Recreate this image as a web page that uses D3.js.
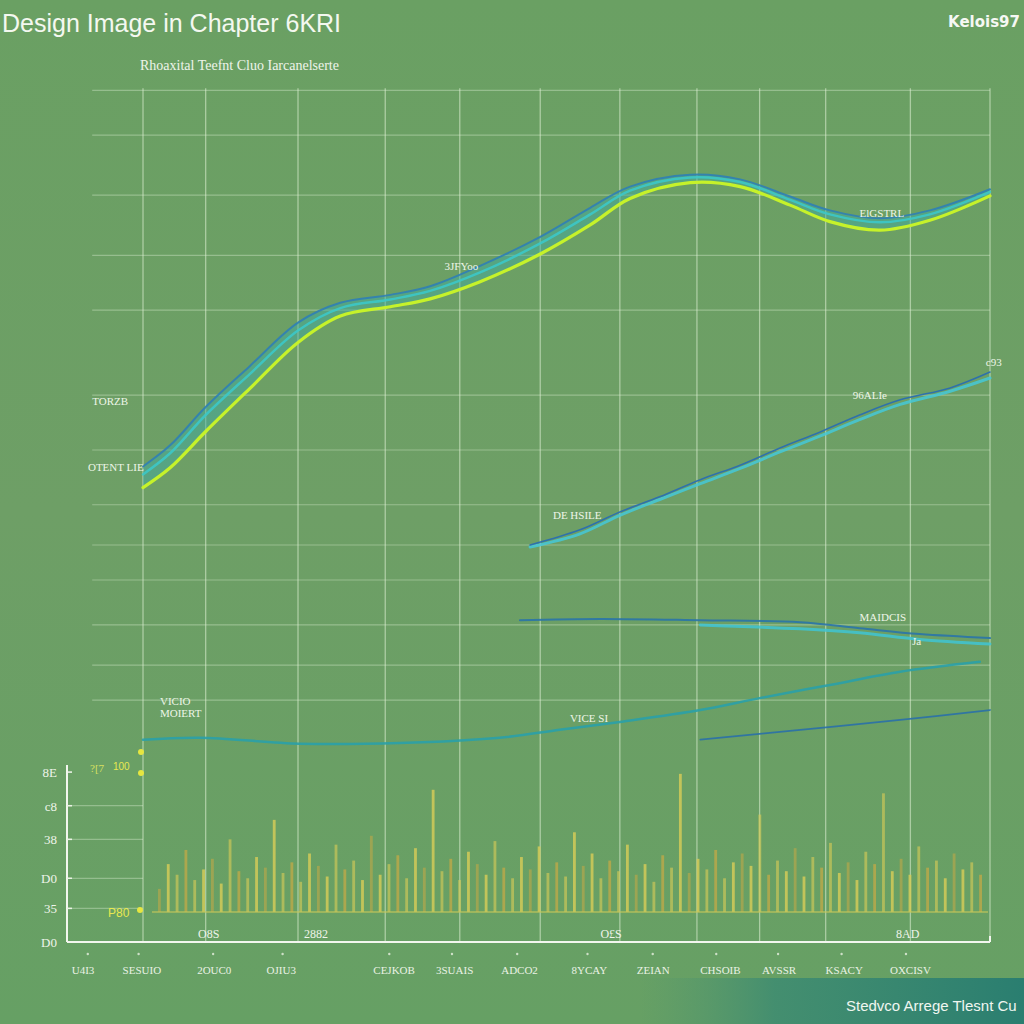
<!DOCTYPE html>
<html><head><meta charset="utf-8">
<script src="https://cdn.jsdelivr.net/npm/d3@7"></script>
<style>html,body{margin:0;padding:0;background:#6c9e64;}svg{display:block;}</style>
</head><body>
<script>
// ---------- data ----------
const titleText = "Design Image in Chapter 6KRI";
const subtitleText = "Rhoaxital Teefnt Cluo Iarcanelserte";
const cornerText = "Kelois97";
const footerText = "Stedvco Arrege Tlesnt Cu";

const gridX = [0, 7.4, 18.3, 28.6, 37.4, 46.9, 56.3, 65.4, 72.8, 80.6, 90.6, 100];
const gridY = [99.2, 92.4, 83.3, 74.2, 65.9, 53.0, 44.7, 36.4, 30.3, 25.0, 18.2, 12.1, 6.8];

const line1X = [0, 3.2, 7.4, 12.6, 18.3, 23.3, 29.2, 33.9, 39.8, 46.9, 52.8, 57.5, 64.6, 70.5, 76.4, 81.1, 87.0, 92.9, 100];
const line1Green = [39.0, 42.0, 47.5, 54.0, 61.0, 65.0, 66.4, 67.6, 70.2, 74.4, 78.8, 82.8, 85.2, 84.6, 81.8, 79.3, 78.0, 79.5, 83.2];
const line1Cyan  = [41.0, 44.2, 50.0, 56.2, 62.8, 66.2, 67.5, 68.8, 71.6, 76.0, 80.4, 84.0, 86.0, 85.3, 82.6, 80.4, 79.2, 80.4, 83.8];
const line1Blue  = [42.2, 45.4, 51.2, 57.4, 64.0, 67.0, 68.2, 69.5, 72.6, 77.0, 81.4, 84.6, 86.4, 85.7, 83.1, 81.0, 79.8, 81.0, 84.2];

const line2X = [45.7, 51.6, 56.3, 61.0, 65.8, 70.5, 75.2, 79.9, 84.6, 89.4, 95.3, 100];
const line2Blue = [30.3, 32.6, 35.3, 37.6, 40.2, 42.4, 45.0, 47.4, 50.0, 52.3, 54.1, 56.5];
const line2Cyan = [30.0, 32.0, 34.8, 37.2, 39.6, 41.9, 44.4, 46.8, 49.3, 51.6, 53.6, 55.6];

const line3X = [44.5, 54.0, 65.8, 77.6, 84.6, 91.7, 100];
const line3Blue = [18.9, 19.1, 18.9, 18.6, 17.7, 16.8, 16.2];
const line3bX = [65.8, 77.6, 84.6, 91.7, 100];
const line3Cyan = [18.2, 17.6, 17.0, 16.0, 15.3];

const line4X = [0, 6.7, 18.5, 30.3, 42.1, 49.2, 56.3, 65.8, 72.8, 81.1, 89.4, 98.8];
const line4Teal = [0.8, 1.1, 0.2, 0.3, 1.1, 2.3, 3.5, 5.3, 7.1, 9.1, 11.1, 12.6];
const line5X = [65.8, 77.6, 89.4, 100];
const line5Blue = [0.8, 2.3, 3.8, 5.3];

const plotLabels = [
  {t:"TORZB", x:-6, y:51.5}, {t:"OTENT LIE", x:-6.5, y:41.5},
  {t:"3JFYoo", x:35.6, y:72.0}, {t:"ElGSTRL", x:84.6, y:80.0},
  {t:"DE HSILE", x:48.4, y:34.2}, {t:"96ALIe", x:83.8, y:52.5},
  {t:"c93", x:99.5, y:57.5}, {t:"MAIDCIS", x:84.6, y:18.8},
  {t:"Ja", x:90.8, y:15.2}, {t:"VICIO", x:2.0, y:6.0},
  {t:"MOIERT", x:2.0, y:4.3}, {t:"VICE SI", x:50.4, y:3.5}
];

const barCats = d3.range(94);
const barValues = [30,44,38,52,35,41,47,33,58,40,36,48,42,69,39,45,34,50,43,37,55,41,46,35,60,38,44,49,36,53,42,86,40,47,35,51,44,38,57,42,36,48,41,54,39,45,37,62,43,50,36,46,40,55,38,44,34,49,42,95,39,47,41,52,36,45,50,43,72,38,46,40,53,37,48,42,56,39,45,35,51,44,84,40,47,38,54,42,46,36,50,41,45,38];
const bottomYTicks = [{v:0,t:"D0"},{v:19,t:"35"},{v:36,t:"D0"},{v:58,t:"38"},{v:77,t:"c8"},{v:96,t:"8E"}];
const bottomXLabels = ["U4I3","SESUIO","2OUC0","OJIU3","CEJKOB","3SUAIS","ADCO2","8YCAY","ZEIAN","CHSOIB","AVSSR","KSACY","OXCISV"];
const bottomXLabelPos = [0.8, 6.8, 15.6, 23.8, 36.4, 43.8, 51.5, 59.8, 67.5, 75.0, 82.3, 89.8, 97.4];
const bottomInline = [{t:"O8S",x:15.0},{t:"2882",x:27.5},{t:"O£S",x:62.5},{t:"8AD",x:97.4}];

// ---------- drawing ----------
const W = 1024, H = 1024;
const svg = d3.select("body").append("svg").attr("width", W).attr("height", H);
const defs = svg.append("defs");
const bg = defs.append("linearGradient").attr("id","bg").attr("x1","0").attr("y1","0").attr("x2","0").attr("y2","1");
bg.append("stop").attr("offset","0").attr("stop-color","#6aa063");
bg.append("stop").attr("offset","0.5").attr("stop-color","#6e9f66");
bg.append("stop").attr("offset","1").attr("stop-color","#66a064");
svg.append("rect").attr("width",W).attr("height",H).attr("fill","url(#bg)");
const ft = defs.append("linearGradient").attr("id","ft").attr("x1","0").attr("y1","0").attr("x2","1").attr("y2","0");
ft.append("stop").attr("offset","0").attr("stop-color","#4f9470").attr("stop-opacity","0");
ft.append("stop").attr("offset","0.35").attr("stop-color","#3b8a72").attr("stop-opacity","0.8");
ft.append("stop").attr("offset","1").attr("stop-color","#2a7e70").attr("stop-opacity","1");
svg.append("rect").attr("x",640).attr("y",978).attr("width",384).attr("height",46).attr("fill","url(#ft)");

const x = d3.scaleLinear().domain([0,100]).range([143,990]);
const y = d3.scaleLinear().domain([0,100]).range([745,85]);

const gridColorV = "rgba(225,242,215,0.55)";
const gridColorH = "rgba(222,240,212,0.38)";
svg.append("g").selectAll("line").data(gridX).join("line")
  .attr("x1",d=>x(d)).attr("x2",d=>x(d)).attr("y1",y(99.5)).attr("y2",942)
  .attr("stroke",gridColorV).attr("stroke-width",1.3);
svg.append("g").selectAll("line").data(gridY).join("line")
  .attr("x1",x(-6)).attr("x2",x(100)).attr("y1",d=>y(d)).attr("y2",d=>y(d))
  .attr("stroke",gridColorH).attr("stroke-width",1.2);

const curve = d3.curveCatmullRom.alpha(0.5);
function drawLine(xs, ys, color, width, op){
  const line = d3.line().x((d,i)=>x(xs[i])).y(d=>y(d)).curve(curve);
  svg.append("path").datum(ys).attr("d",line).attr("fill","none")
    .attr("stroke",color).attr("stroke-width",width).attr("stroke-opacity",op)
    .attr("stroke-linecap","round");
}
const area1 = d3.area().x((d,i)=>x(line1X[i])).y0((d,i)=>y(line1Green[i])).y1(d=>y(d)).curve(curve);
svg.append("path").datum(line1Blue).attr("d",area1).attr("fill","#3fa9a0").attr("opacity",0.5);
drawLine(line1X, line1Blue, "#2f7fb5", 2, 0.9);
drawLine(line1X, line1Cyan, "#3cc8c8", 2.5, 0.9);
drawLine(line1X, line1Green, "#c6f22a", 3.2, 1);

drawLine(line2X, line2Cyan, "#45c8d8", 3, 0.85);
drawLine(line2X, line2Blue, "#2a6fb0", 1.6, 0.95);

drawLine(line3X, line3Blue, "#2a74a8", 2, 0.9);
drawLine(line3bX, line3Cyan, "#40c4d4", 3, 0.85);

drawLine(line4X, line4Teal, "#2aa0a8", 2.5, 0.9);
drawLine(line5X, line5Blue, "#2a70a8", 1.8, 0.9);

svg.append("g").selectAll("text").data(plotLabels).join("text")
  .attr("x",d=>x(d.x)).attr("y",d=>y(d.y)).text(d=>d.t)
  .attr("font-family","Liberation Serif, serif").attr("font-size",11)
  .attr("fill","#eef6e8");

svg.append("text").attr("x",2).attr("y",32).text(titleText)
  .attr("font-family","Liberation Sans, Arial, sans-serif").attr("font-size",25).attr("fill","#f4f8f0");
svg.append("text").attr("x",140).attr("y",70).text(subtitleText)
  .attr("font-family","Liberation Serif, serif").attr("font-size",14).attr("fill","#eef4ea");
svg.append("text").attr("x",1020).attr("y",27).attr("text-anchor","end").text(cornerText)
  .attr("font-family","DejaVu Sans, sans-serif").attr("font-weight","bold").attr("font-size",15).attr("fill","#f6f8f4");
svg.append("text").attr("x",846).attr("y",1011).text(footerText)
  .attr("font-family","Liberation Sans Narrow, Liberation Sans, sans-serif").attr("font-size",15).attr("fill","#f0f6f0");

// ---------- bottom bar chart ----------
const xb = d3.scaleBand().domain(barCats).range([152,988]).padding(0.68);
const yb = d3.scaleLinear().domain([0,100]).range([942,765]);
const barBase = 17;
svg.append("g").selectAll("rect").data(barValues).join("rect")
  .attr("x",(d,i)=>xb(i)).attr("width",xb.bandwidth())
  .attr("y",d=>yb(d)).attr("height",d=>yb(barBase)-yb(d))
  .attr("fill",(d,i)=> i%3===0 ? "#b8a84a" : "#d2ca58").attr("opacity",(d,i)=>i%2?0.85:0.65);
svg.append("line").attr("x1",152).attr("x2",988).attr("y1",yb(barBase)).attr("y2",yb(barBase))
  .attr("stroke","#c8c85a").attr("stroke-width",2).attr("opacity",0.55);

const axisCol = "#f2f6ee";
svg.append("line").attr("x1",67).attr("x2",990).attr("y1",942).attr("y2",942).attr("stroke",axisCol).attr("stroke-width",2);
svg.append("line").attr("x1",67).attr("x2",67).attr("y1",765).attr("y2",942).attr("stroke",axisCol).attr("stroke-width",2);
svg.append("line").attr("x1",990).attr("x2",990).attr("y1",936).attr("y2",942).attr("stroke",axisCol).attr("stroke-width",2);
svg.append("g").selectAll("line").data(bottomYTicks).join("line")
  .attr("x1",67).attr("x2",72).attr("y1",d=>yb(d.v)).attr("y2",d=>yb(d.v)).attr("stroke",axisCol).attr("stroke-width",1.5);
svg.append("g").selectAll("line").data(bottomYTicks.filter(d=>d.v>0 && d.v<90)).join("line")
  .attr("x1",67).attr("x2",143).attr("y1",d=>yb(d.v)).attr("y2",d=>yb(d.v)).attr("stroke",gridColorH).attr("stroke-width",1.2);
svg.append("g").selectAll("text").data(bottomYTicks).join("text")
  .attr("x",57).attr("y",d=>yb(d.v)+5).attr("text-anchor","end").text(d=>d.t)
  .attr("font-family","Liberation Serif, serif").attr("font-size",13).attr("fill","#eef4ea");

svg.append("g").selectAll("text").data(bottomXLabels).join("text")
  .attr("x",(d,i)=>x(bottomXLabelPos[i])-78).attr("y",974).text(d=>d)
  .attr("font-family","Liberation Serif, serif").attr("font-size",11).attr("fill","#eaf2e4");
svg.append("g").selectAll("circle").data(bottomXLabelPos).join("circle")
  .attr("cx",d=>x(d)-62).attr("cy",954).attr("r",1.2).attr("fill","#e8f0e0").attr("opacity",0.8);
svg.append("g").selectAll("text").data(bottomInline).join("text")
  .attr("x",d=>x(d.x)-72).attr("y",938).text(d=>d.t)
  .attr("font-family","Liberation Serif, serif").attr("font-size",12).attr("fill","#eef4ea");

svg.append("circle").attr("cx",141).attr("cy",752).attr("r",3).attr("fill","#e6e640");
svg.append("circle").attr("cx",141).attr("cy",773).attr("r",3).attr("fill","#e6e640");
svg.append("circle").attr("cx",140).attr("cy",910).attr("r",3).attr("fill","#e6e640");
svg.append("text").attr("x",90).attr("y",772).text("?[7").attr("font-family","Liberation Serif, serif").attr("font-size",11).attr("fill","#d8e060");
svg.append("text").attr("x",113).attr("y",770).text("100").attr("font-family","Liberation Sans, sans-serif").attr("font-size",10).attr("fill","#e8e850");
svg.append("text").attr("x",108).attr("y",917).text("P80").attr("font-family","Liberation Sans, sans-serif").attr("font-size",12).attr("fill","#e8e850");
</script>
</body></html>
